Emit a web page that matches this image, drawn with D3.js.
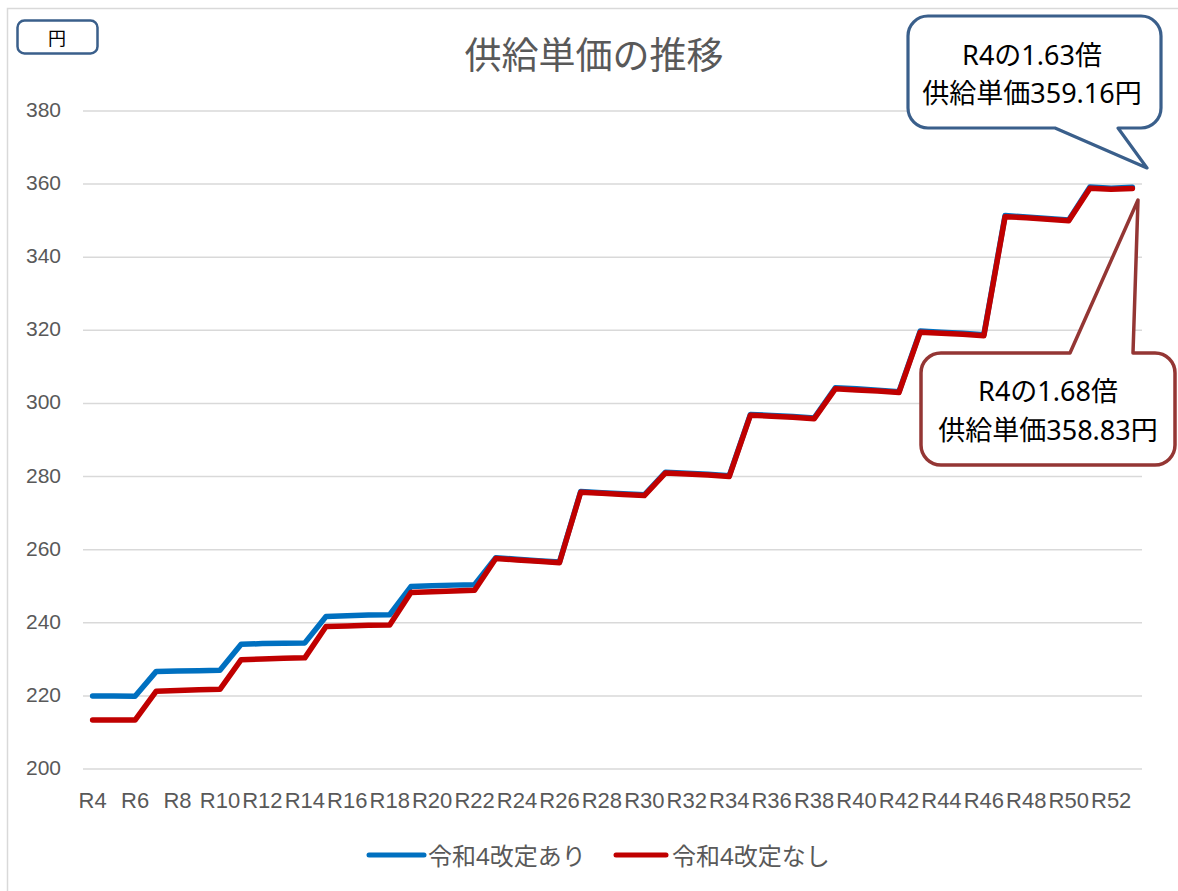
<!DOCTYPE html>
<html><head><meta charset="utf-8">
<script src="https://cdn.jsdelivr.net/npm/d3@7"></script>
<style>body{margin:0;background:#fff}svg{display:block}</style>
</head><body><svg id="c" width="1178" height="891"></svg>
<script>
const categories = ["R4","R5","R6","R7","R8","R9","R10","R11","R12","R13","R14","R15","R16","R17","R18","R19","R20","R21","R22","R23","R24","R25","R26","R27","R28","R29","R30","R31","R32","R33","R34","R35","R36","R37","R38","R39","R40","R41","R42","R43","R44","R45","R46","R47","R48","R49","R50","R51","R52","R53"];
const withRevision = [220.0,220.0,219.9, 226.7,226.8,226.9,227.0, 234.1,234.3,234.4,234.5, 241.7,241.9,242.1,242.2, 249.9,250.1,250.3,250.4, 257.8,257.4,257.0,256.6, 275.9,275.6,275.3,275.0, 281.2,280.9,280.6,280.2, 297.0,296.7,296.4,296.0, 304.3,304.0,303.6,303.2, 319.8,319.5,319.2,318.8, 351.4,351.0,350.6,350.2, 359.2,358.9,359.16];
const withoutRevision = [213.4,213.4,213.4, 221.3,221.5,221.7,221.8, 229.9,230.1,230.3,230.4, 239.0,239.1,239.3,239.4, 248.3,248.5,248.7,248.9, 257.6,257.2,256.8,256.4, 275.7,275.4,275.1,274.8, 281.0,280.7,280.4,280.0, 296.8,296.5,296.2,295.8, 304.0,303.7,303.4,303.0, 319.5,319.2,318.9,318.5, 351.1,350.8,350.4,350.0, 358.9,358.6,358.83];
const yTicks = [200,220,240,260,280,300,320,340,360,380];
const xTickLabels = ["R4","R6","R8","R10","R12","R14","R16","R18","R20","R22","R24","R26","R28","R30","R32","R34","R36","R38","R40","R42","R44","R46","R48","R50","R52"];
const seriesNames = ["令和4改定あり","令和4改定なし"];
const seriesColors = ["#0070C0","#C00000"];
const titleText = "供給単価の推移";
const unitText = "円";
const callout1 = ["R4の1.63倍","供給単価359.16円"];
const callout2 = ["R4の1.68倍","供給単価358.83円"];

const svg = d3.select("#c");
const latin = "'Liberation Sans', Arial, sans-serif";
const jp = "'Noto Sans', 'Noto Sans CJK JP', sans-serif";

// outer chart border
svg.append("rect").attr("x",7.5).attr("y",8.5).attr("width",1185).attr("height",900)
  .attr("fill","#fff").attr("stroke","#d9d9d9").attr("stroke-width",1.5);

const x = d3.scaleBand().domain(categories).range([82,1143]).padding(0);
const y = d3.scaleLinear().domain([200,380]).range([769,111]);

// gridlines
svg.append("g").selectAll("line").data(yTicks).join("line")
  .attr("x1",83).attr("x2",1142).attr("y1",d=>y(d)).attr("y2",d=>y(d))
  .attr("stroke","#d9d9d9").attr("stroke-width",1.5);

// y axis labels
const yAxis = d3.axisLeft(y).tickValues(yTicks).tickSize(0).tickPadding(0);
const gy = svg.append("g").attr("transform","translate(61,0)").call(yAxis);
gy.select(".domain").remove();
gy.selectAll("text").attr("font-family",latin).attr("font-size",21).attr("fill","#595959")
  .attr("dy",null).attr("dominant-baseline","central").attr("y",-2);

// x axis labels
const xAxis = d3.axisBottom(x).tickValues(xTickLabels).tickSize(0).tickPadding(0);
const gx = svg.append("g").attr("transform","translate(0,790)").call(xAxis);
gx.select(".domain").remove();
gx.selectAll("text").attr("font-family",latin).attr("font-size",22).attr("fill","#595959")
  .attr("dy",null).attr("y",18);

// lines
const line = d3.line().x((d,i)=>x(categories[i])+x.bandwidth()/2).y(d=>y(d));
[withRevision, withoutRevision].forEach((s,k)=>{
  svg.append("path").datum(s).attr("d",line).attr("fill","none")
    .attr("stroke",seriesColors[k]).attr("stroke-width",5.5)
    .attr("stroke-linejoin","round").attr("stroke-linecap","round");
});

// title
svg.append("text").attr("x",594).attr("y",54).attr("text-anchor","middle")
  .attr("dominant-baseline","central").attr("font-family",jp).attr("font-size",37)
  .attr("fill","#595959").text(titleText);

// unit box
svg.append("rect").attr("x",17.5).attr("y",20.5).attr("width",80).attr("height",33).attr("rx",7)
  .attr("fill","#fff").attr("stroke","#3A5F8B").attr("stroke-width",2.5);
svg.append("text").attr("x",57).attr("y",37.5).attr("text-anchor","middle").attr("dominant-baseline","central")
  .attr("font-family",jp).attr("font-size",18).attr("fill","#000").text(unitText);

// legend
const legendItems = [{x0:369,x1:424,tx:428},{x0:616,x1:666,tx:672}];
legendItems.forEach((l,k)=>{
  svg.append("line").attr("x1",l.x0).attr("x2",l.x1).attr("y1",855).attr("y2",855)
    .attr("stroke",seriesColors[k]).attr("stroke-width",5).attr("stroke-linecap","round");
  svg.append("text").attr("x",l.tx).attr("y",855).attr("dominant-baseline","central")
    .attr("font-family",jp).attr("font-size",24).attr("fill","#595959").text(seriesNames[k]);
});

// callouts
function calloutPath(x0,y0,x1,y1,r,side,ta,tb,tip){
  const p = d3.path();
  p.moveTo(x0+r,y0);
  if(side==="top"){ p.lineTo(ta,y0); p.lineTo(tip[0],tip[1]); p.lineTo(tb,y0); }
  p.lineTo(x1-r,y0);
  p.arcTo(x1,y0,x1,y0+r,r);
  p.lineTo(x1,y1-r);
  p.arcTo(x1,y1,x1-r,y1,r);
  if(side==="bottom"){ p.lineTo(tb,y1); p.lineTo(tip[0],tip[1]); p.lineTo(ta,y1); }
  p.lineTo(x0+r,y1);
  p.arcTo(x0,y1,x0,y1-r,r);
  p.lineTo(x0,y0+r);
  p.arcTo(x0,y0,x0+r,y0,r);
  p.closePath();
  return p.toString();
}
svg.append("path").attr("d",calloutPath(908,16,1161,128,20,"bottom",1055,1118,[1147,168]))
  .attr("fill","#fff").attr("stroke","#3A5F8B").attr("stroke-width",3.2).attr("stroke-linejoin","round");
svg.append("path").attr("d",calloutPath(921,353,1175,465,20,"top",1070,1133,[1138,200]))
  .attr("fill","#fff").attr("stroke","#943634").attr("stroke-width",3.5).attr("stroke-linejoin","round");

[[callout1,1032,54,92],[callout2,1048,390,429]].forEach(([txt,cx,y1,y2])=>{
  [y1,y2].forEach((yy,i)=>{
    svg.append("text").attr("x",cx).attr("y",yy).attr("text-anchor","middle").attr("dominant-baseline","central")
      .attr("font-family",jp).attr("font-size",27).attr("fill","#000").text(txt[i]);
  });
});
</script></body></html>
